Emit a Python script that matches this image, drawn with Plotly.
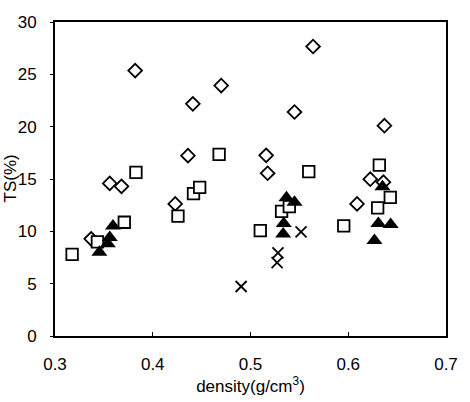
import plotly.graph_objects as go

# Diamonds (open)
dia_x = [0.382, 0.441, 0.470, 0.564, 0.545, 0.637, 0.436, 0.516, 0.5175, 0.356, 0.368, 0.423, 0.6225, 0.636, 0.609, 0.337]
dia_y = [25.36, 22.18, 23.93, 27.66, 21.40, 20.09, 17.23, 17.26, 15.55, 14.58, 14.30, 12.62, 14.98, 14.70, 12.62, 9.28]

# Squares (open)
sq_x = [0.3175, 0.3434, 0.3709, 0.3828, 0.4258, 0.4417, 0.448, 0.4679, 0.510, 0.5318, 0.5397, 0.5596, 0.5954, 0.6318, 0.6301, 0.643]
sq_y = [7.79, 9.00, 10.87, 15.64, 11.46, 13.61, 14.20, 17.35, 10.06, 11.90, 12.37, 15.70, 10.53, 16.32, 12.24, 13.24]

# Triangles (filled)
tri_x = [0.3454, 0.354, 0.356, 0.3593, 0.5368, 0.545, 0.534, 0.5334, 0.635, 0.6308, 0.6434, 0.6268]
tri_y = [8.0, 8.82, 9.4, 10.5, 13.2, 12.77, 10.75, 9.75, 14.27, 10.75, 10.65, 9.13]

# Crosses
x_x = [0.4904, 0.5281, 0.5272, 0.5517]
x_y = [4.73, 7.94, 7.00, 9.94]

x_ticks = [0.3, 0.4, 0.5, 0.6, 0.7]
y_ticks = [0, 5, 10, 15, 20, 25, 30]

fig = go.Figure()
fig.add_trace(go.Scatter(x=dia_x, y=dia_y, mode="markers",
                         marker=dict(symbol="diamond", size=10.5, color="white",
                                     line=dict(color="black", width=1.8))))
fig.add_trace(go.Scatter(x=sq_x, y=sq_y, mode="markers",
                         marker=dict(symbol="square", size=11.5, color="white",
                                     line=dict(color="black", width=1.8))))
fig.add_trace(go.Scatter(x=tri_x, y=tri_y, mode="markers",
                         marker=dict(symbol="triangle-up", size=14, color="black",
                                     line=dict(color="black", width=0))))
fig.add_trace(go.Scatter(x=x_x, y=x_y, mode="markers",
                         marker=dict(symbol="x-thin", size=11,
                                     line=dict(color="black", width=1.8))))

fig.update_layout(
    width=470, height=402,
    margin=dict(l=55, r=12, t=22, b=59),
    paper_bgcolor="white", plot_bgcolor="white",
    showlegend=False,
    font=dict(family="Liberation Sans, Arial, sans-serif", size=17, color="black"),
    xaxis=dict(range=[0.3, 0.7], tickvals=x_ticks, ticktext=[f"{v:.1f}" for v in x_ticks],
               showgrid=False, zeroline=False, showline=True, linecolor="black", linewidth=1.8,
               mirror=True, ticks="inside", ticklen=4, tickcolor="black", tickwidth=1,
               ticklabelstandoff=12,
               title=dict(text="density(g/cm<sup>3</sup>)", standoff=4, font=dict(size=17))),
    yaxis=dict(range=[0, 30], tickvals=y_ticks,
               showgrid=False, zeroline=False, showline=True, linecolor="black", linewidth=1.8,
               mirror=True, ticks="outside", ticklen=3, tickcolor="black", tickwidth=1,
               ticklabelstandoff=10),
    annotations=[dict(text="TS(%)", textangle=-90, xref="paper", yref="paper",
                      x=0, y=0.5, xanchor="right", yanchor="middle", xshift=-34,
                      showarrow=False, font=dict(size=17))],
)

fig.write_html("out.html")
